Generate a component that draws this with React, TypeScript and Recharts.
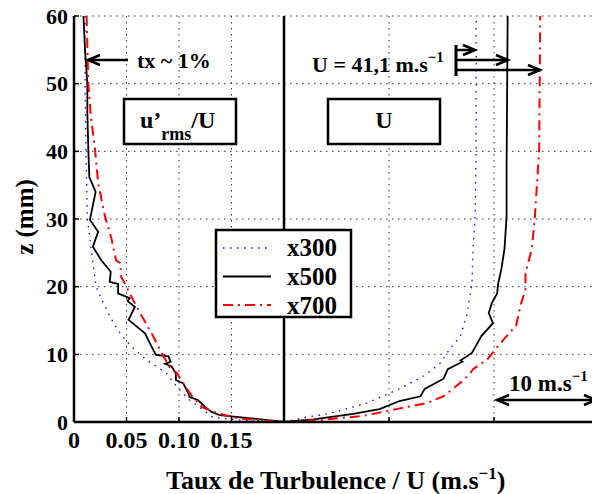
import React from "react";
import { LineChart, Line, XAxis, YAxis, CartesianGrid, ReferenceLine } from "recharts";

const Z_TICKS = [0, 10, 20, 30, 40, 50, 60];
const X_TICKS = [0, 0.05, 0.1, 0.15, 0.2, 0.3, 0.4];
const X_TICK_LABELS = ["0", "0.05", "0.10", "0.15", "", "", ""];
const SERIES_NAMES = ["x300", "x500", "x700"];

// left half: turbulence rate u'rms/U, [x, z]
const TURB_300: [number, number][] = [
  [0.0105, 60], [0.0105, 50], [0.0114, 40], [0.0127, 30], [0.0145, 28], [0.016, 25.9],
  [0.019, 22.5], [0.021, 20], [0.028, 17.6], [0.036, 15.1], [0.044, 13.1], [0.055, 11.1],
  [0.069, 9.2], [0.088, 7.2], [0.098, 5.2], [0.11, 3.25], [0.123, 1.8], [0.132, 0.7],
  [0.163, 0.2], [0.2, 0],
];
const TURB_500: [number, number][] = [
  [0.009, 60], [0.0105, 55], [0.0127, 50], [0.0127, 45.7], [0.0137, 40], [0.0146, 36.2],
  [0.0206, 34], [0.0152, 29.9], [0.023, 28.1], [0.018, 25.9], [0.026, 23.9], [0.035, 22.2],
  [0.034, 20.7], [0.042, 20.4], [0.042, 19], [0.053, 18.3], [0.051, 17.9], [0.058, 17],
  [0.052, 15.1], [0.0676, 13.1], [0.074, 11.1], [0.078, 9.9], [0.09, 9.7], [0.092, 8.9],
  [0.0867, 8.6], [0.093, 8.2], [0.097, 7.2], [0.097, 6.2], [0.104, 5.7], [0.109, 4.2],
  [0.11, 3.7], [0.118, 3.25], [0.125, 2.2], [0.131, 1.5], [0.139, 1.0], [0.152, 0.8],
  [0.171, 0.5], [0.196, 0.1], [0.2, 0],
];
const TURB_700: [number, number][] = [
  [0.012, 60], [0.0136, 50.1], [0.016, 45.2], [0.02, 40.3], [0.023, 35.3], [0.0295, 30.4],
  [0.036, 26.9], [0.04, 23.9], [0.044, 23.5], [0.045, 21.4], [0.048, 20.6], [0.053, 19],
  [0.063, 16.1], [0.074, 13.1], [0.0835, 10.2], [0.091, 8.1], [0.098, 7.2], [0.106, 5.2],
  [0.113, 3.7], [0.122, 2.2], [0.136, 1.3], [0.158, 0.5], [0.187, 0.15], [0.2, 0],
];

// right half: velocity profiles U, drawn in the same axis units, [x, z]
const VEL_300: [number, number][] = [
  [0.2, 0], [0.218, 0.6], [0.244, 1.3], [0.279, 2.8], [0.31, 4.9], [0.333, 6.8], [0.349, 8.7],
  [0.358, 10.8], [0.368, 12.7], [0.374, 15.7], [0.379, 20.5], [0.38, 25.6], [0.382, 30.4],
  [0.383, 40], [0.383, 60],
];
const VEL_500: [number, number][] = [
  [0.2, 0], [0.228, 0.4], [0.266, 1.2], [0.291, 1.9], [0.31, 3.1], [0.33, 3.8], [0.334, 4.9],
  [0.352, 6.4], [0.356, 7.8], [0.37, 8.9], [0.368, 9.1], [0.379, 10.2], [0.388, 12.7],
  [0.399, 14.6], [0.395, 16.1], [0.398, 17.6], [0.403, 19], [0.404, 20.5], [0.407, 22.6],
  [0.41, 25.6], [0.412, 30.4], [0.412, 37.7], [0.413, 60],
];
const VEL_700: [number, number][] = [
  [0.2, 0], [0.234, 0.3], [0.275, 0.9], [0.307, 1.9], [0.336, 2.8], [0.352, 3.8], [0.368, 5.8],
  [0.377, 7.1], [0.38, 7.8], [0.394, 9.3], [0.402, 10.9], [0.412, 12.7], [0.421, 14.2],
  [0.425, 17.1], [0.43, 19.6], [0.43, 22], [0.436, 25.6], [0.439, 30.4], [0.443, 40.3],
  [0.444, 60],
];

const FONT = "'Liberation Serif', 'Times New Roman', serif";

const STYLES: Record<string, { stroke: string; strokeWidth: number; strokeDasharray?: string }> = {
  x300: { stroke: "#0000ff", strokeWidth: 1.3, strokeDasharray: "1.5 5.5" },
  x500: { stroke: "#000000", strokeWidth: 1.8 },
  x700: { stroke: "#ff0000", strokeWidth: 2, strokeDasharray: "10 5 2 5" },
};

const toPts = (arr: [number, number][]) => arr.map(([x, z]) => ({ x, z }));

const SEGMENTS = [
  { name: "x300", data: toPts(TURB_300) },
  { name: "x300", data: toPts(VEL_300) },
  { name: "x500", data: toPts(TURB_500) },
  { name: "x500", data: toPts(VEL_500) },
  { name: "x700", data: toPts(TURB_700) },
  { name: "x700", data: toPts(VEL_700) },
];

function Arrow({ x1, x2, y }: { x1: number; x2: number; y: number }) {
  const d = Math.sign(x2 - x1);
  return (
    <g stroke="#000" strokeWidth={2.5} fill="none">
      <line x1={x1} y1={y} x2={x2} y2={y} />
      <polyline points={`${x2 - d * 12},${y - 5} ${x2},${y} ${x2 - d * 12},${y + 5}`} />
    </g>
  );
}

function Overlay() {
  const bold = { fontFamily: FONT, fontWeight: 700, fill: "#000" };
  return (
    <svg width={592} height={494} style={{ position: "absolute", left: 0, top: 0, pointerEvents: "none" }}>
      {/* axis titles */}
      <text {...bold} fontSize={26} x={166} y={489}>
        Taux de Turbulence / U (m.s
        <tspan fontSize={17} dy={-10}>−1</tspan>
        <tspan dy={10}>)</tspan>
      </text>
      <text {...bold} fontSize={25} textAnchor="middle" transform="translate(33,217) rotate(-90)">
        z (mm)
      </text>

      {/* tx ~ 1% */}
      <Arrow x1={128} x2={88} y={60} />
      <text {...bold} fontSize={22} x={137} y={68}>tx ~ 1%</text>

      {/* u'rms/U box */}
      <rect x={124} y={99} width={112} height={45} fill="#fff" stroke="#000" strokeWidth={2.5} />
      <text {...bold} fontSize={24} x={140} y={128}>
        u’<tspan fontSize={18} dy={12}>rms</tspan>
        <tspan dy={-12}>/U</tspan>
      </text>

      {/* U box */}
      <rect x={328} y={99} width={112} height={45} fill="#fff" stroke="#000" strokeWidth={2.5} />
      <text {...bold} fontSize={24} x={384} y={128} textAnchor="middle">U</text>

      {/* U = 41,1 m.s-1 */}
      <text {...bold} fontSize={22} x={312} y={72}>
        U = 41,1 m.s<tspan fontSize={15} dy={-10}>−1</tspan>
      </text>
      <line x1={456} y1={45} x2={456} y2={76} stroke="#000" strokeWidth={3} />
      <Arrow x1={456} x2={475} y={50} />
      <Arrow x1={456} x2={508} y={60} />
      <Arrow x1={456} x2={540} y={70} />

      {/* 10 m.s-1 scale */}
      <Arrow x1={545} x2={497} y={400} />
      <Arrow x1={545} x2={596} y={400} />
      <text {...bold} fontSize={23} x={509} y={391}>
        10 m.s<tspan fontSize={15} dy={-10}>−1</tspan>
      </text>

      {/* legend */}
      <rect x={216} y={230} width={135} height={87} fill="#fff" stroke="#000" strokeWidth={2.5} />
      {SERIES_NAMES.map((n, i) => (
        <g key={n}>
          <line x1={223} x2={271} y1={248 + i * 28.5} y2={248 + i * 28.5} {...STYLES[n]} />
          <text {...bold} fontSize={25} x={287} y={256 + i * 29}>{n}</text>
        </g>
      ))}
    </svg>
  );
}

export default function App() {
  const tickStyle = { fontFamily: FONT, fontWeight: 700, fill: "#000" };
  return (
    <div style={{ position: "absolute", left: 0, top: 0, width: 592, height: 494, overflow: "hidden", background: "#fff" }}>
      <LineChart width={620} height={494} margin={{ top: 16, right: 21, left: 0, bottom: 0 }}>
        <CartesianGrid stroke="#333" strokeDasharray="1.5 4.5" />
        <XAxis
          type="number"
          dataKey="x"
          domain={[0, 0.5]}
          ticks={X_TICKS}
          interval={0}
          allowDataOverflow
          height={72}
          tickSize={-5}
          tickMargin={14}
          tickFormatter={(v: number) => X_TICK_LABELS[X_TICKS.indexOf(v)] ?? ""}
          tick={{ ...tickStyle, fontSize: 24 }}
          axisLine={{ stroke: "#000", strokeWidth: 2.5 }}
          tickLine={{ stroke: "#000", strokeWidth: 1.5 }}
        />
        <XAxis
          xAxisId="top"
          orientation="top"
          type="number"
          dataKey="x"
          domain={[0, 0.5]}
          ticks={X_TICKS}
          interval={0}
          height={0}
          tickSize={-5}
          tick={false}
          axisLine={{ stroke: "#000", strokeWidth: 2.5 }}
          tickLine={{ stroke: "#000", strokeWidth: 1.5 }}
        />
        <YAxis
          type="number"
          dataKey="z"
          domain={[0, 60]}
          ticks={Z_TICKS}
          interval={0}
          width={74}
          tickSize={-5}
          tickMargin={11}
          tick={{ ...tickStyle, fontSize: 22 }}
          axisLine={{ stroke: "#000", strokeWidth: 2.5 }}
          tickLine={{ stroke: "#000", strokeWidth: 1.5 }}
        />
        <ReferenceLine x={0.2} stroke="#000" strokeWidth={2.5} />
        {SEGMENTS.map((s, i) => (
          <Line
            key={i}
            data={s.data}
            dataKey="z"
            type="linear"
            dot={false}
            activeDot={false}
            isAnimationActive={false}
            {...STYLES[s.name]}
          />
        ))}
      </LineChart>
      <Overlay />
    </div>
  );
}
